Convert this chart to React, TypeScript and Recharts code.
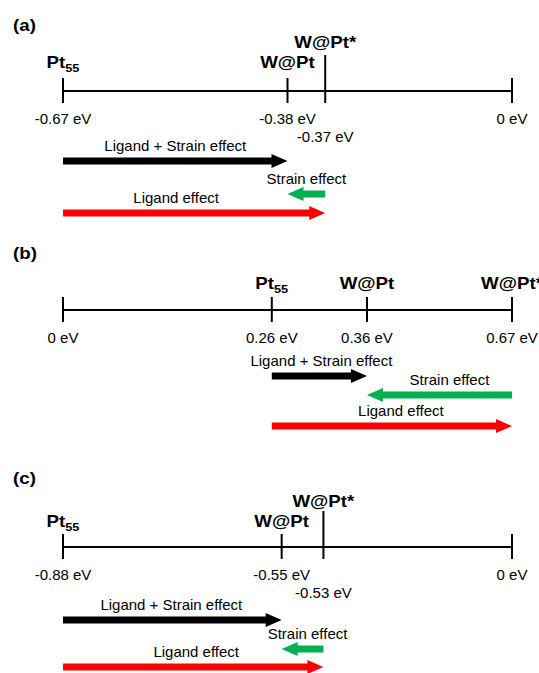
import React from 'react';
import { ComposedChart, XAxis, YAxis, Scatter, ReferenceLine } from 'recharts';

const FONT = '"Liberation Sans", Arial, Helvetica, sans-serif';
const BOLD_SX = 1.17; // the bold labels in the figure are a bit wider than Arial Bold

// species on each energy line (left to right), their energies in eV and where they
// sit along the schematic line (0 = left end, 100 = right end; not drawn to scale)
const A_SPECIES = ['Pt55', 'W@Pt', 'W@Pt*', ''];
const A_ENERGY = [-0.67, -0.38, -0.37, 0];
const A_PLACE = [0, 50, 58.4, 100];

const B_SPECIES = ['', 'Pt55', 'W@Pt', 'W@Pt*'];
const B_ENERGY = [0, 0.26, 0.36, 0.67];
const B_PLACE = [0, 46.5, 67.7, 100];

const C_SPECIES = ['Pt55', 'W@Pt', 'W@Pt*', ''];
const C_ENERGY = [-0.88, -0.55, -0.53, 0];
const C_PLACE = [0, 48.7, 58.0, 100];

// the three effect arrows, same in every panel
const EFFECTS = ['Ligand + Strain effect', 'Strain effect', 'Ligand effect'];
const EFFECT_FROM = ['Pt55', 'W@Pt*', 'Pt55'];
const EFFECT_TO = ['W@Pt', 'W@Pt', 'W@Pt*'];
const EFFECT_COLORS = ['#000000', '#00b050', '#ff0000'];

const PANELS = [
  { tag: '(a)', species: A_SPECIES, energy: A_ENERGY, place: A_PLACE, height: 230, line: 91, tagDy: -60, nameDy: -23, arrowDy: [70, 103, 122], labelDx: [0, 0, -18] },
  { tag: '(b)', species: B_SPECIES, energy: B_ENERGY, place: B_PLACE, height: 210, line: 80, tagDy: -51.5, nameDy: -21, arrowDy: [66, 85, 116], labelDx: [2, 10, 9] },
  { tag: '(c)', species: C_SPECIES, energy: C_ENERGY, place: C_PLACE, height: 233, line: 107, tagDy: -63.5, nameDy: -20.5, arrowDy: [73, 102, 120], labelDx: [-1, 5, 3] },
];

const Txt = ({ x, y, children, bold = false, anchor = 'middle', size = 15 }: any) => (
  <text
    transform={`translate(${x},${y}) scale(${bold ? BOLD_SX : 1},1)`}
    textAnchor={anchor}
    fontFamily={FONT}
    fontSize={size}
    fontWeight={bold ? 700 : 400}
    fill="#000"
  >
    {children}
  </text>
);

const SpeciesName = ({ x, y, name }: any) => {
  const m = name.match(/^(\D+)(\d+)$/);
  return (
    <Txt x={x} y={y} bold size={16}>
      {m ? (
        <>
          <tspan>{m[1]}</tspan>
          <tspan fontSize={11} dy={4}>{m[2]}</tspan>
        </>
      ) : name}
    </Txt>
  );
};

function Panel({ panel }: any) {
  const L = panel.line;
  const markers = panel.species.map((name: string, i: number) => ({
    pos: panel.place[i],
    row: L,
    name,
    energy: panel.energy[i],
    // a marker squeezed next to its neighbour gets its labels moved out of the way
    crowded: i > 0 && panel.place[i] - panel.place[i - 1] < 15,
  }));
  const placeOf = (name: string) => panel.place[panel.species.indexOf(name)];

  const markerShape = (p: any) => {
    const { cx, cy, payload } = p;
    const top = payload.crowded ? cy - 36 : cy - 13;
    const nameY = payload.crowded ? cy + panel.nameDy - 20 : cy + panel.nameDy;
    const eY = payload.crowded ? cy + 51 : cy + 33;
    return (
      <g>
        <line x1={cx} x2={cx} y1={top} y2={cy + 12} stroke="#000" strokeWidth={2} />
        {payload.name && <SpeciesName x={cx} y={nameY} name={payload.name} />}
        <Txt x={cx} y={eY}>{`${payload.energy} eV`}</Txt>
      </g>
    );
  };

  const arrowShape = (label: string, color: string, dx: number) => (p: any) => {
    const { x1, y1, x2 } = p;
    const dir = x2 > x1 ? 1 : -1;
    const head = 16;
    const neck = x2 - dir * head;
    const pts = [
      [x1, y1 - 3.5], [neck, y1 - 3.5], [neck, y1 - 7], [x2, y1],
      [neck, y1 + 7], [neck, y1 + 3.5], [x1, y1 + 3.5],
    ].map((q) => q.join(',')).join(' ');
    return (
      <g>
        <polygon points={pts} fill={color} />
        <Txt x={(x1 + x2) / 2 + dx} y={y1 - 10.5}>{label}</Txt>
      </g>
    );
  };

  return (
    <ComposedChart
      width={539}
      height={panel.height}
      data={markers}
      margin={{ top: 0, right: 27, bottom: 0, left: 63 }}
    >
      <XAxis type="number" dataKey="pos" domain={[0, 100]} hide />
      <YAxis type="number" dataKey="row" domain={[0, panel.height]} reversed hide />

      {/* the energy line and the panel tag */}
      <ReferenceLine
        segment={[{ x: 0, y: L }, { x: 100, y: L }]}
        ifOverflow="visible"
        shape={(p: any) => (
          <g>
            <line x1={p.x1} y1={p.y1} x2={p.x2} y2={p.y2} stroke="#000" strokeWidth={2} />
            <Txt x={p.x1 - 50} y={p.y1 + panel.tagDy} bold size={16} anchor="start">{panel.tag}</Txt>
          </g>
        )}
      />

      {EFFECTS.map((label, i) => (
        <ReferenceLine
          key={label}
          segment={[
            { x: placeOf(EFFECT_FROM[i]), y: L + panel.arrowDy[i] },
            { x: placeOf(EFFECT_TO[i]), y: L + panel.arrowDy[i] },
          ]}
          ifOverflow="visible"
          shape={arrowShape(label, EFFECT_COLORS[i], panel.labelDx[i])}
        />
      ))}

      <Scatter data={markers} shape={markerShape} isAnimationActive={false} />
    </ComposedChart>
  );
}

export default function App() {
  return (
    <div style={{ position: 'absolute', left: 0, top: 0, width: 539, height: 673, background: '#fff' }}>
      {PANELS.map((panel) => (
        <Panel key={panel.tag} panel={panel} />
      ))}
    </div>
  );
}
